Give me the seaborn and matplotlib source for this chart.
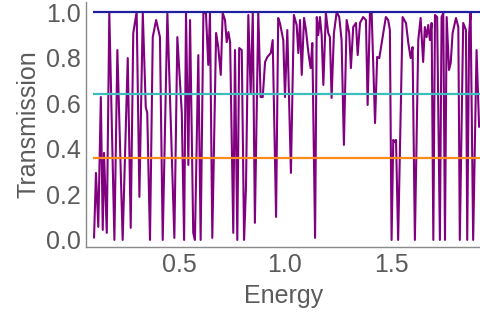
import matplotlib
matplotlib.use("Agg")
import matplotlib.pyplot as plt
import seaborn as sns
import pandas as pd
from matplotlib.ticker import MultipleLocator, FormatStrFormatter

energy = [0.099, 0.108, 0.119, 0.131, 0.140, 0.146, 0.159, 0.171, 0.195, 0.209,
          0.234, 0.258, 0.272, 0.284, 0.300, 0.313, 0.329, 0.343, 0.350, 0.363,
          0.376, 0.392, 0.410, 0.423, 0.445, 0.478, 0.492, 0.513, 0.524, 0.533,
          0.544, 0.552, 0.567, 0.575, 0.591, 0.602, 0.615, 0.627, 0.638, 0.646,
          0.657, 0.675, 0.685, 0.697, 0.706, 0.717, 0.725, 0.733, 0.741, 0.756,
          0.764, 0.775, 0.784, 0.796, 0.807, 0.816, 0.827, 0.838, 0.848, 0.858,
          0.874, 0.885, 0.895, 0.906, 0.917, 0.933, 0.942, 0.958, 0.968, 0.976,
          0.992, 1.000, 1.011, 1.028, 1.042, 1.055, 1.063, 1.071, 1.079, 1.090,
          1.099, 1.110, 1.121, 1.129, 1.142, 1.150, 1.157, 1.165, 1.173, 1.181,
          1.193, 1.204, 1.212, 1.220, 1.231, 1.244, 1.256, 1.267, 1.278, 1.291,
          1.303, 1.311, 1.322, 1.335, 1.343, 1.354, 1.369, 1.382, 1.390, 1.401,
          1.409, 1.425, 1.435, 1.445, 1.464, 1.476, 1.487, 1.495, 1.503, 1.511,
          1.519, 1.524, 1.534, 1.555, 1.571, 1.582, 1.593, 1.602, 1.613, 1.629,
          1.640, 1.652, 1.660, 1.668, 1.676, 1.684, 1.692, 1.700, 1.708, 1.718,
          1.731, 1.739, 1.747, 1.755, 1.763, 1.774, 1.782, 1.791, 1.807, 1.818,
          1.825, 1.841, 1.854, 1.860, 1.869, 1.876, 1.888, 1.904, 1.916]
transmission = [0.01, 0.294, 0.057, 0.627, 0.044, 0.382, 0.031, 0.996, 0.0, 0.833,
                0.0, 0.798, 0.053, 0.908, 1.0, 0.189, 0.996, 0.583, 0.557, 0.0,
                0.890, 0.965, 0.890, 0.0, 0.996, 0.009, 0.890, 0.557, 0.0, 0.996,
                0.329, 0.965, 0.031, 0.0, 0.811, 0.0, 0.996, 0.996, 0.768, 0.996,
                0.009, 0.908, 0.846, 0.724, 0.996, 0.965, 0.868, 0.912, 0.868, 0.031,
                0.833, 0.0, 0.842, 0.833, 0.0, 0.232, 0.987, 0.645, 0.996, 0.075,
                0.996, 0.627, 0.627, 0.781, 0.803, 0.820, 0.877, 0.101, 0.974, 0.952,
                0.877, 0.627, 0.921, 0.294, 0.987, 0.943, 0.820, 0.965, 0.724, 0.974,
                0.921, 0.825, 0.754, 0.864, 0.009, 0.978, 0.899, 0.978, 0.899, 0.680,
                0.996, 0.908, 0.890, 0.623, 0.908, 1.0, 0.978, 0.877, 0.417, 0.965,
                0.908, 0.754, 0.934, 0.952, 0.811, 0.952, 0.978, 0.965, 0.592, 0.996,
                0.996, 0.513, 0.803, 0.798, 0.908, 0.978, 0.965, 0.921, 0.0, 0.439,
                0.430, 0.439, 0.0, 0.978, 0.952, 0.864, 0.798, 0.846, 0.0, 0.877,
                0.974, 0.781, 0.934, 0.890, 0.943, 0.877, 0.952, 0.0, 0.987, 0.978,
                0.0, 0.978, 0.996, 0.0, 0.978, 0.746, 0.776, 0.908, 0.974, 0.934,
                0.0, 0.952, 0.921, 0.0, 0.908, 0.996, 0.0, 0.833, 0.496]

ref_levels = [1.0, 0.642, 0.358]
ref_colors = ["#1f1fa0", "#3dbdbd", "#ff8c1a"]

x_ticks = [0.5, 1.0, 1.5]
y_ticks = [0.0, 0.2, 0.4, 0.6, 0.8, 1.0]

sns.set_style("white")
plt.rcParams["font.family"] = ["Liberation Sans", "DejaVu Sans"]

fig = plt.figure(figsize=(4.81, 3.25), dpi=100)
ax = fig.add_axes([86 / 481, 1 - 247 / 325, (481 - 86) / 481, (247 - 2) / 325])

df = pd.DataFrame({"Energy": energy, "Transmission": transmission})
sns.lineplot(data=df, x="Energy", y="Transmission", ax=ax, color="#800080",
             lw=1.5, sort=False, estimator=None)

for lvl, col in zip(ref_levels, ref_colors):
    ax.hlines(lvl, energy[0] - 0.003, 1.94, color=col, lw=1.6, zorder=3)

ax.set_xlim(0.061, 1.925)
ax.set_ylim(-0.031, 1.044)

gray = "#8a8a8a"
txt = "#5b5b5b"
for s in ["top", "right"]:
    ax.spines[s].set_visible(False)
for s in ["left", "bottom"]:
    ax.spines[s].set_color(gray)
    ax.spines[s].set_linewidth(1.0)

ax.set_xticks(x_ticks)
ax.set_yticks(y_ticks)
ax.xaxis.set_minor_locator(MultipleLocator(0.1))
ax.yaxis.set_minor_locator(MultipleLocator(0.05))
ax.yaxis.set_major_formatter(FormatStrFormatter("%.1f"))
ax.xaxis.set_major_formatter(FormatStrFormatter("%.1f"))
ax.tick_params(which="major", direction="in", length=5, width=1, color=gray,
               labelsize=18, labelcolor=txt, pad=4)
ax.tick_params(which="minor", direction="in", length=3, width=0.8, color=gray)

ax.set_xlabel("Energy", fontsize=18, color=txt, labelpad=5)
ax.set_ylabel("Transmission", fontsize=18, color=txt, labelpad=4)

fig.savefig("out.png", dpi=100)
